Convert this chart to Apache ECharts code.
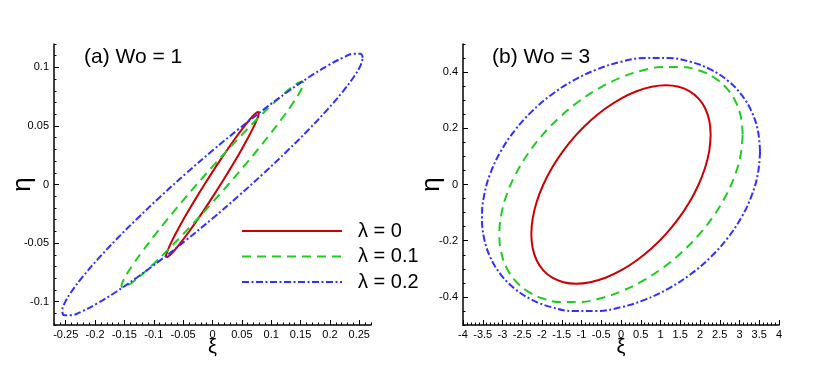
<!DOCTYPE html>
<html>
<head>
<meta charset="utf-8">
<script src="https://cdn.jsdelivr.net/npm/echarts@6/dist/echarts.min.js"></script>
<style>
  html, body { margin: 0; padding: 0; background: #fff; }
  #chart { width: 830px; height: 366px; }
</style>
</head>
<body>
<div id="chart"></div>
<script>
// Orbits, one point every 10 degrees round each curve
// (a) Wo = 1
const redA_xi  = [0.079, 0.0778, 0.0742, 0.0684, 0.0605, 0.0508, 0.0395, 0.027, 0.0137, 0, -0.0137, -0.027, -0.0395, -0.0508, -0.0605, -0.0684, -0.0742, -0.0778, -0.079, -0.0778, -0.0742, -0.0684, -0.0605, -0.0508, -0.0395, -0.027, -0.0137, 0, 0.0137, 0.027, 0.0395, 0.0508, 0.0605, 0.0684, 0.0742, 0.0778, 0.079];
const redA_eta = [0.0611, 0.062, 0.0611, 0.0583, 0.0537, 0.0475, 0.0399, 0.031, 0.0212, 0.0108, 0, -0.0108, -0.0212, -0.031, -0.0399, -0.0475, -0.0537, -0.0583, -0.0611, -0.062, -0.0611, -0.0583, -0.0537, -0.0475, -0.0399, -0.031, -0.0212, -0.0108, 0, 0.0108, 0.0212, 0.031, 0.0399, 0.0475, 0.0537, 0.0583, 0.0611];

const greenA_xi  = [0.155, 0.1526, 0.1457, 0.1342, 0.1187, 0.0996, 0.0775, 0.053, 0.0269, 0, -0.0269, -0.053, -0.0775, -0.0996, -0.1187, -0.1342, -0.1457, -0.1526, -0.155, -0.1526, -0.1457, -0.1342, -0.1187, -0.0996, -0.0775, -0.053, -0.0269, 0, 0.0269, 0.053, 0.0775, 0.0996, 0.1187, 0.1342, 0.1457, 0.1526, 0.155];
const greenA_eta = [0.0867, 0.088, 0.0867, 0.0827, 0.0762, 0.0674, 0.0566, 0.044, 0.0301, 0.0153, 0, -0.0153, -0.0301, -0.044, -0.0566, -0.0674, -0.0762, -0.0827, -0.0867, -0.088, -0.0867, -0.0827, -0.0762, -0.0674, -0.0566, -0.044, -0.0301, -0.0153, 0, 0.0153, 0.0301, 0.044, 0.0566, 0.0674, 0.0762, 0.0827, 0.0867];

const blueA_xi  = [0.256, 0.2521, 0.2406, 0.2217, 0.1961, 0.1646, 0.128, 0.0876, 0.0444, 0, -0.0444, -0.0876, -0.128, -0.1646, -0.1961, -0.2217, -0.2406, -0.2521, -0.256, -0.2521, -0.2406, -0.2217, -0.1961, -0.1646, -0.128, -0.0876, -0.0444, 0, 0.0444, 0.0876, 0.128, 0.1646, 0.1961, 0.2217, 0.2406, 0.2521, 0.256];
const blueA_eta = [0.1082, 0.1116, 0.1116, 0.1082, 0.1015, 0.0918, 0.0792, 0.0642, 0.0473, 0.029, 0.0098, -0.0098, -0.029, -0.0473, -0.0642, -0.0792, -0.0918, -0.1015, -0.1082, -0.1116, -0.1116, -0.1082, -0.1015, -0.0918, -0.0792, -0.0642, -0.0473, -0.029, -0.0098, 0.0098, 0.029, 0.0473, 0.0642, 0.0792, 0.0918, 0.1015, 0.1082];

// (b) Wo = 3
const redB_xi  = [2.27, 2.2355, 2.1331, 1.9658, 1.7388, 1.4592, 1.135, 0.7763, 0.3941, 0, -0.3941, -0.7763, -1.135, -1.4592, -1.7388, -1.9658, -2.1331, -2.2355, -2.27, -2.2355, -2.1331, -1.9658, -1.7388, -1.4592, -1.135, -0.7763, -0.3941, 0, 0.3941, 0.7763, 1.135, 1.4592, 1.7388, 1.9658, 2.1331, 2.2355, 2.27];
const redB_eta = [0.1765, 0.2269, 0.2704, 0.3057, 0.3317, 0.3476, 0.353, 0.3476, 0.3317, 0.3057, 0.2704, 0.2269, 0.1765, 0.1207, 0.0613, 0, -0.0613, -0.1207, -0.1765, -0.2269, -0.2704, -0.3057, -0.3317, -0.3476, -0.353, -0.3476, -0.3317, -0.3057, -0.2704, -0.2269, -0.1765, -0.1207, -0.0613, 0, 0.0613, 0.1207, 0.1765];

const greenB_xi  = [3.08, 3.0332, 2.8943, 2.6673, 2.3593, 1.9798, 1.54, 1.0534, 0.5347, 0, -0.5347, -1.0534, -1.54, -1.9798, -2.3593, -2.6673, -2.8943, -3.0332, -3.08, -3.0332, -2.8943, -2.6673, -2.3593, -1.9798, -1.54, -1.0534, -0.5347, 0, 0.5347, 1.0534, 1.54, 1.9798, 2.3593, 2.6673, 2.8943, 3.0332, 3.08];
const greenB_eta = [0.1775, 0.2409, 0.297, 0.3441, 0.3806, 0.4057, 0.4184, 0.4184, 0.4057, 0.3806, 0.3441, 0.297, 0.2409, 0.1775, 0.1087, 0.0366, -0.0366, -0.1087, -0.1775, -0.2409, -0.297, -0.3441, -0.3806, -0.4057, -0.4184, -0.4184, -0.4057, -0.3806, -0.3441, -0.297, -0.2409, -0.1775, -0.1087, -0.0366, 0.0366, 0.1087, 0.1775];

const blueB_xi  = [3.52, 3.4665, 3.3077, 3.0483, 2.6963, 2.2627, 1.76, 1.2038, 0.6111, 0, -0.6111, -1.2038, -1.76, -2.2627, -2.6963, -3.0483, -3.3077, -3.4665, -3.52, -3.4665, -3.3077, -3.0483, -2.6963, -2.2627, -1.76, -1.2038, -0.6111, 0, 0.6111, 1.2038, 1.76, 2.2627, 2.6963, 3.0483, 3.3077, 3.4665, 3.52];
const blueB_eta = [0.117, 0.191, 0.2593, 0.3196, 0.3703, 0.4096, 0.4366, 0.4503, 0.4503, 0.4366, 0.4096, 0.3703, 0.3196, 0.2593, 0.191, 0.117, 0.0394, -0.0394, -0.117, -0.191, -0.2593, -0.3196, -0.3703, -0.4096, -0.4366, -0.4503, -0.4503, -0.4366, -0.4096, -0.3703, -0.3196, -0.2593, -0.191, -0.117, -0.0394, 0.0394, 0.117];

const seriesNames = ['λ = 0', 'λ = 0.1', 'λ = 0.2'];
const titles = ['(a) Wo = 1', '(b) Wo = 3'];

// tick labels
const xTicksA = [-0.25, -0.2, -0.15, -0.1, -0.05, 0, 0.05, 0.1, 0.15, 0.2, 0.25];
const yTicksA = [-0.1, -0.05, 0, 0.05, 0.1];
const yTicksB = [-0.4, -0.2, 0, 0.2, 0.4];

const FONT = 'Arial, "Liberation Sans", sans-serif';
const RED = '#cc0000';
const GREEN = '#1fcc1f';
const BLUE = '#3030ff';

const zip = (xs, ys) => xs.map((x, i) => [x, ys[i]]);

const axisLine = { onZero: false, lineStyle: { color: '#000', width: 1.5 } };
const label = { color: '#000', fontSize: 11, fontFamily: FONT };
const nameStyle = (size) => ({ color: '#000', fontSize: size, fontFamily: FONT });
const titleStyle = { fontSize: 21, fontWeight: 'normal', fontFamily: FONT, color: '#000' };

// the minor-tick axes sit on top of the labelled ones
function minorAxis(grid, min, max, step, pos) {
    return {
        type: 'value', gridIndex: grid, min: min, max: max, interval: step, position: pos,
        axisLine: { show: false, onZero: false },
        axisTick: { inside: true, length: 2.5, lineStyle: { color: '#000' } },
        axisLabel: { show: false },
        splitLine: { show: false }
    };
}

const chart = echarts.init(document.getElementById('chart'));

const option = {
    animation: false,
    backgroundColor: '#fff',
    title: [
        { text: titles[0], left: 84, top: 47, padding: 0, textStyle: titleStyle },
        { text: titles[1], left: 492, top: 47, padding: 0, textStyle: titleStyle }
    ],
    legend: {
        data: seriesNames,
        orient: 'vertical',
        left: 241, top: 221,
        itemWidth: 100, itemHeight: 14, itemGap: 5.5,
        padding: 0,
        itemStyle: { opacity: 0 },   // keep only the line sample, no marker
        textStyle: { fontSize: 20, lineHeight: 20, fontFamily: FONT, color: '#000', padding: [0, 0, 0, 11] }
    },
    grid: [
        { left: 54, top: 44, width: 317, height: 281 },
        { left: 463, top: 44, width: 316, height: 281 }
    ],
    xAxis: [
        {
            type: 'value', gridIndex: 0, min: -0.27, max: 0.27, position: 'bottom',
            name: 'ξ', nameLocation: 'middle', nameGap: 12, nameMoveOverlap: false,
            nameTextStyle: nameStyle(20),
            axisLine: axisLine,
            axisTick: { inside: true, length: 5, customValues: xTicksA, lineStyle: { color: '#000' } },
            axisLabel: Object.assign({ customValues: xTicksA, margin: 4 }, label),
            splitLine: { show: false }
        },
        minorAxis(0, -0.27, 0.27, 0.01, 'bottom'),
        {
            type: 'value', gridIndex: 1, min: -4, max: 4, interval: 0.5, position: 'bottom',
            name: 'ξ', nameLocation: 'middle', nameGap: 12, nameMoveOverlap: false,
            nameTextStyle: nameStyle(20),
            axisLine: axisLine,
            axisTick: { inside: true, length: 5, lineStyle: { color: '#000' } },
            minorTick: { show: true, splitNumber: 5, length: 2.5, lineStyle: { color: '#000' } },
            axisLabel: Object.assign({ margin: 4, hideOverlap: false }, label),
            splitLine: { show: false }
        }
    ],
    yAxis: [
        {
            type: 'value', gridIndex: 0, min: -0.12, max: 0.12, position: 'left',
            name: 'η', nameLocation: 'middle', nameGap: 18, nameMoveOverlap: false,
            nameTextStyle: nameStyle(26),
            axisLine: axisLine,
            axisTick: { inside: true, length: 5, customValues: yTicksA, lineStyle: { color: '#000' } },
            axisLabel: Object.assign({ customValues: yTicksA, margin: 5 }, label),
            splitLine: { show: false }
        },
        minorAxis(0, -0.12, 0.12, 0.01, 'left'),
        {
            type: 'value', gridIndex: 1, min: -0.5, max: 0.5, position: 'left',
            name: 'η', nameLocation: 'middle', nameGap: 18, nameMoveOverlap: false,
            nameTextStyle: nameStyle(26),
            axisLine: axisLine,
            axisTick: { inside: true, length: 5, customValues: yTicksB, lineStyle: { color: '#000' } },
            axisLabel: Object.assign({ customValues: yTicksB, margin: 5 }, label),
            splitLine: { show: false }
        },
        minorAxis(1, -0.5, 0.5, 0.05, 'left')
    ],
    series: [
        { name: seriesNames[0], type: 'line', xAxisIndex: 0, yAxisIndex: 0, data: zip(redA_xi, redA_eta),
          smooth: 0.4, symbol: 'none', color: RED, lineStyle: { color: RED, width: 2 } },
        { name: seriesNames[1], type: 'line', xAxisIndex: 0, yAxisIndex: 0, data: zip(greenA_xi, greenA_eta),
          smooth: 0.4, symbol: 'none', color: GREEN, lineStyle: { color: GREEN, width: 2, type: [9, 6] } },
        { name: seriesNames[2], type: 'line', xAxisIndex: 0, yAxisIndex: 0, data: zip(blueA_xi, blueA_eta),
          smooth: 0.4, symbol: 'none', color: BLUE, lineStyle: { color: BLUE, width: 2, type: [7, 2.5, 2, 2.5] } },
        { name: seriesNames[0], type: 'line', xAxisIndex: 2, yAxisIndex: 2, data: zip(redB_xi, redB_eta),
          smooth: 0.4, symbol: 'none', color: RED, lineStyle: { color: RED, width: 2 } },
        { name: seriesNames[1], type: 'line', xAxisIndex: 2, yAxisIndex: 2, data: zip(greenB_xi, greenB_eta),
          smooth: 0.4, symbol: 'none', color: GREEN, lineStyle: { color: GREEN, width: 2, type: [9, 6] } },
        { name: seriesNames[2], type: 'line', xAxisIndex: 2, yAxisIndex: 2, data: zip(blueB_xi, blueB_eta),
          smooth: 0.4, symbol: 'none', color: BLUE, lineStyle: { color: BLUE, width: 2, type: [7, 2.5, 2, 2.5] } }
    ]
};

chart.setOption(option);
</script>
</body>
</html>
